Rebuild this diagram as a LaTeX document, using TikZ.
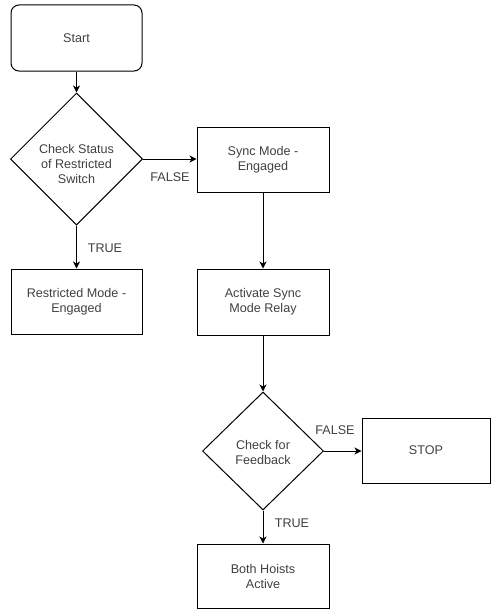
\documentclass[tikz,border=0pt]{standalone}
\usepackage{fontspec}
\setmainfont{Liberation Sans}
\usetikzlibrary{shapes.geometric,arrows.meta}
\definecolor{txt}{RGB}{64,64,64}
\begin{document}
\begin{tikzpicture}[x=1pt,y=-1pt,
  every node/.style={font=\fontsize{12.6}{15}\selectfont, text=txt},
  box/.style={draw=black, line width=1pt, rectangle, align=center, inner sep=0pt,
    minimum width=132pt, minimum height=65pt},
  decision/.style={draw=black, line width=1pt, diamond, aspect=1, inner sep=0pt},
  flow/.style={draw=black, line width=1pt, -{Stealth[length=7pt,width=7pt,inset=2pt]}},
  lbl/.style={inner sep=0pt}]
\useasboundingbox (0,0) rectangle (491,610);

% process steps
\node[box, rounded corners=8pt, minimum width=131pt, minimum height=66pt] (start) at (76.5,38) {Start};
\node[decision, minimum width=132pt, minimum height=132pt] (chk) at (76.5,159) {};
\node[align=center, inner sep=0pt] (chktext) at ([yshift=-5pt]chk.center) {Check Status\\of Restricted\\Switch};
\node[box, minimum width=131pt] (restr) at (76.5,301.5) {Restricted Mode -\\Engaged};
\node[box] (sync) at (263,159.5) {Sync Mode -\\Engaged};
\node[box, minimum height=66pt] (relay) at (263,302) {Activate Sync\\Mode Relay};
\node[decision, minimum width=121pt, minimum height=118pt] (fb) at (263,451) {};
\node[align=center, inner sep=0pt] (fbtext) at ([yshift=-1.5pt]fb.center) {Check for\\Feedback};
\node[box, minimum width=128pt] (stop) at (426,450.5) {STOP};
\node[box, minimum height=64pt] (both) at (263,576) {Both Hoists\\Active};

% connectors
\draw[flow] (start.south) -- (chk.north);
\draw[flow] (chk.east) -- (chk.east -| sync.west);
\draw[flow] (chk.south) -- (restr.north);
\draw[flow] (sync.south) -- (relay.north);
\draw[flow] (relay.south) -- (fb.north);
\draw[flow] (fb.east) -- (fb.east -| stop.west);
\draw[flow] (fb.south) -- (both.north);

% branch labels
\node[lbl] (f1) at (170,177) {FALSE};
\node[lbl] (t1) at (105,248) {TRUE};
\node[lbl] (f2) at (335,430) {FALSE};
\node[lbl] (t2) at (292,523) {TRUE};
\end{tikzpicture}
\end{document}
